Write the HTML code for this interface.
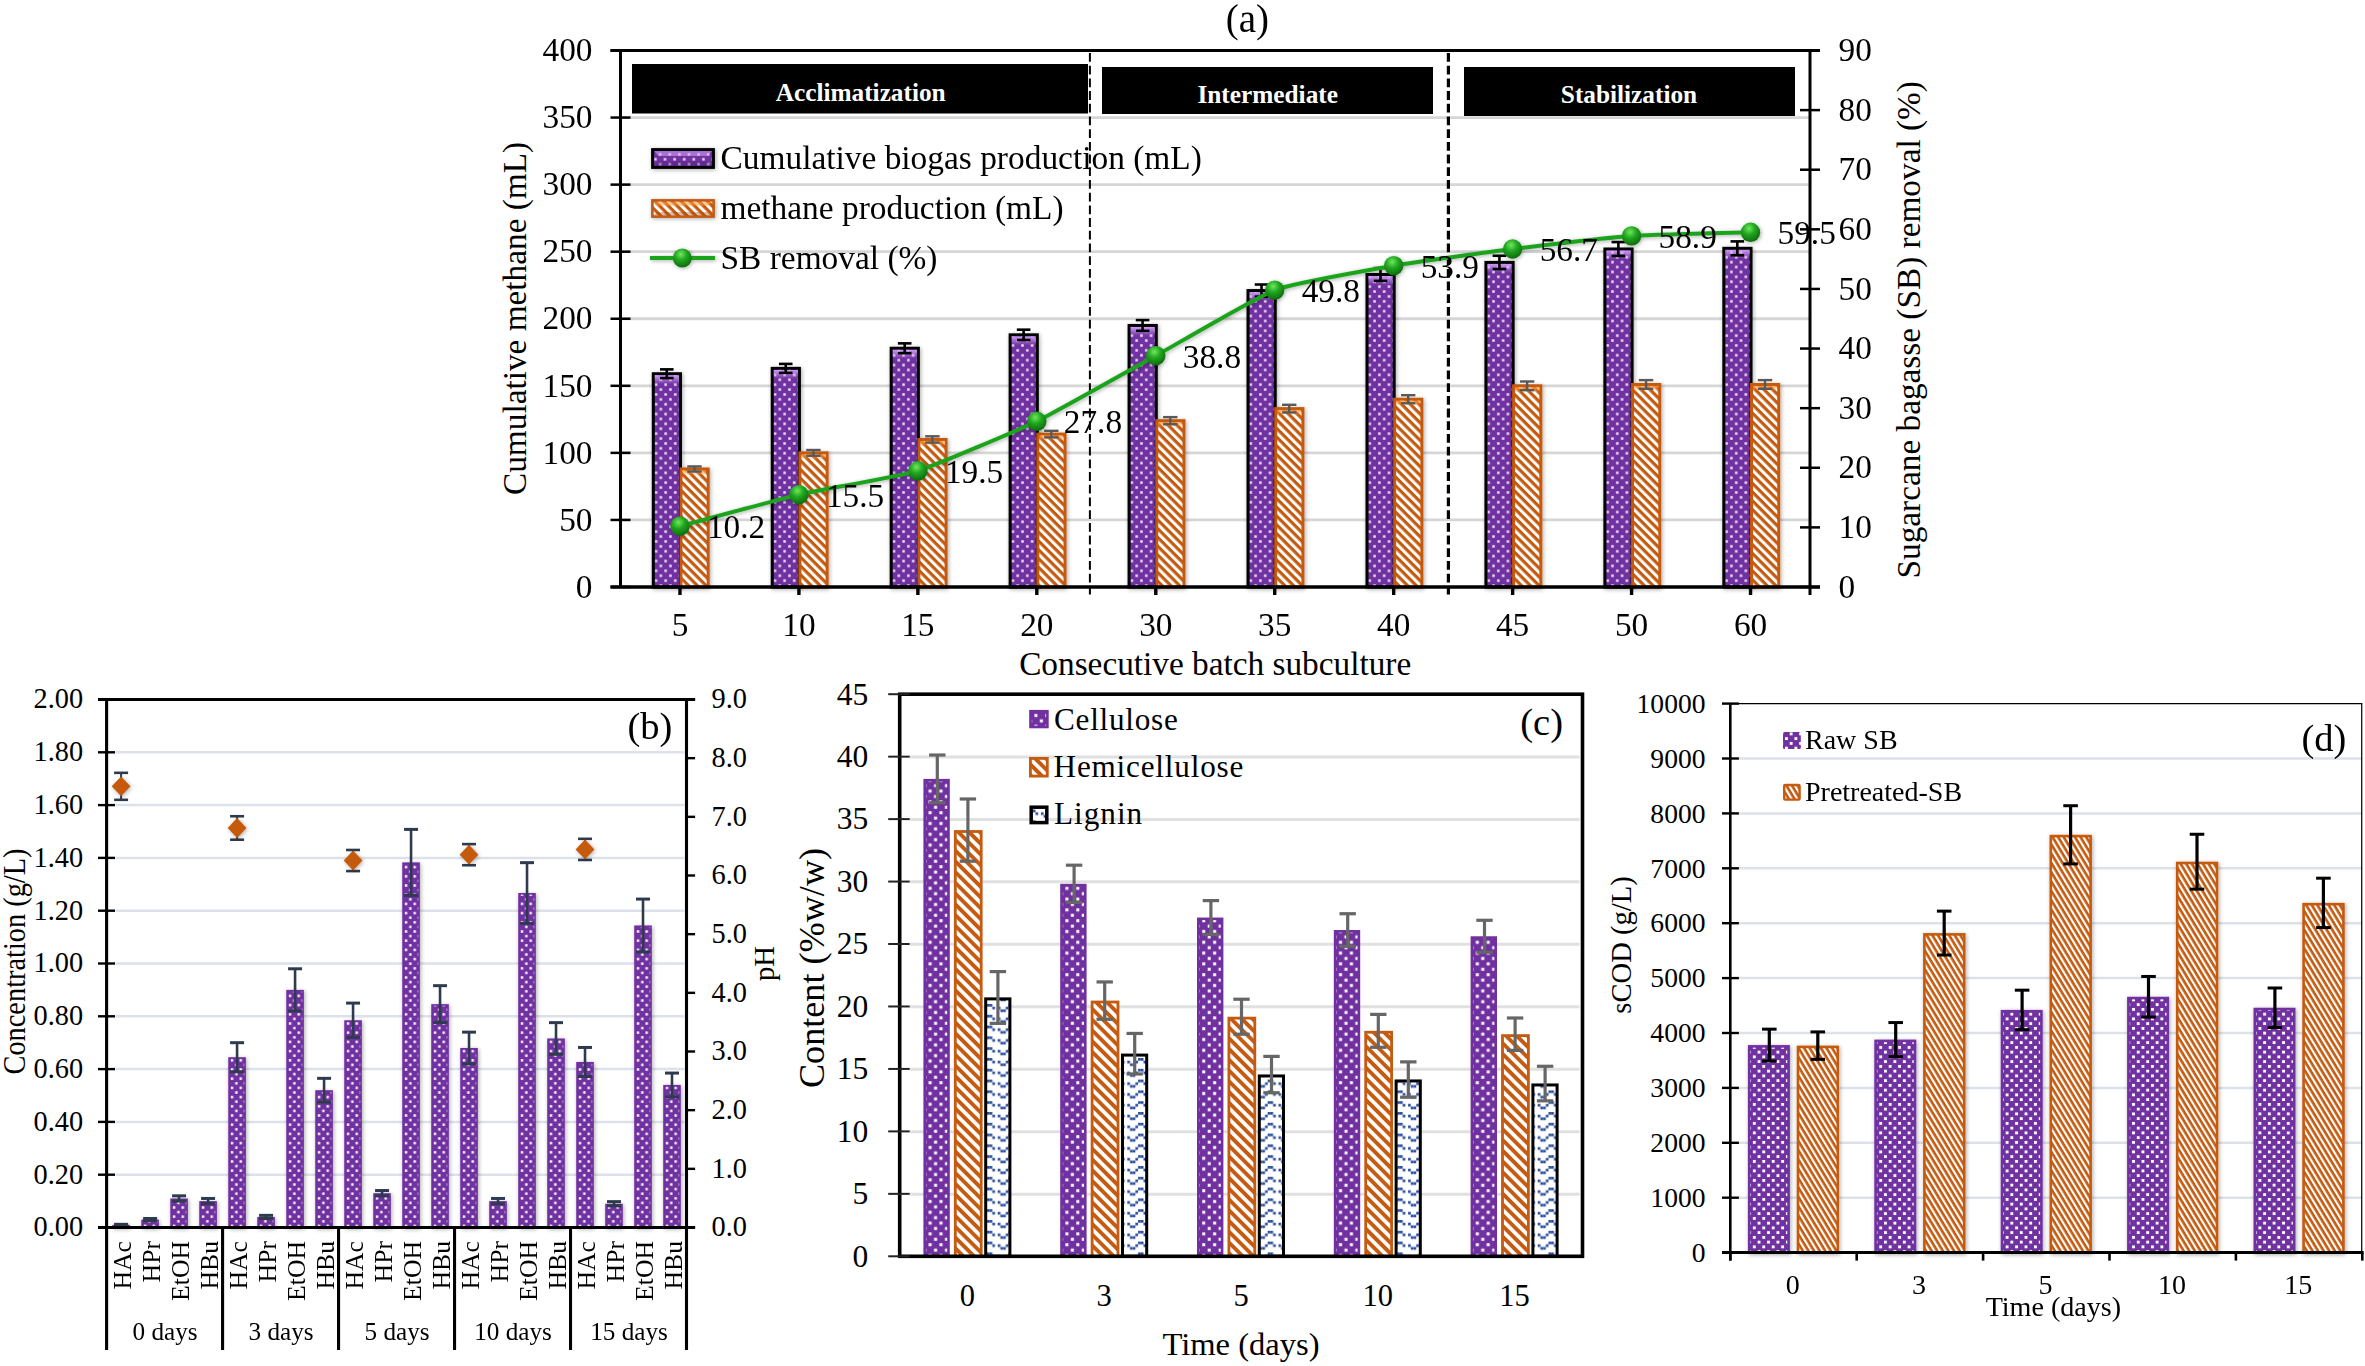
<!DOCTYPE html><html><head><meta charset="utf-8"><title>Figure</title>
<style>html,body{margin:0;padding:0;background:#fff;}svg{display:block;}text{font-family:"Liberation Serif","Times New Roman",serif;}</style></head><body>
<svg width="2365" height="1366" viewBox="0 0 2365 1366">
<defs>
<pattern id="pdotA" x="0.4" y="0" width="9.6" height="9.8" patternUnits="userSpaceOnUse"><rect width="9.6" height="9.8" fill="#7030A0"/><rect x="1.15" y="1.20" width="2.5" height="2.5" fill="#eddff7"/><rect x="5.95" y="6.10" width="2.5" height="2.5" fill="#eddff7"/></pattern>
<pattern id="pdotB" x="0.8" y="0" width="8.7" height="9.2" patternUnits="userSpaceOnUse"><rect width="8.7" height="9.2" fill="#7030A0"/><rect x="0.97" y="1.10" width="2.4" height="2.4" fill="#fff"/><rect x="5.32" y="5.70" width="2.4" height="2.4" fill="#fff"/></pattern>
<pattern id="pdotC" x="2.7" y="0" width="10.9" height="10.8" patternUnits="userSpaceOnUse"><rect width="10.9" height="10.8" fill="#7030A0"/><rect x="1.23" y="1.20" width="3.0" height="3.0" fill="#fff"/><rect x="6.68" y="6.60" width="3.0" height="3.0" fill="#fff"/></pattern>
<pattern id="pdotD" x="2.74" y="0" width="9.45" height="9.5" patternUnits="userSpaceOnUse"><rect width="9.45" height="9.5" fill="#7030A0"/><rect x="0.91" y="0.93" width="2.9" height="2.9" fill="#fff"/><rect x="5.64" y="5.67" width="2.9" height="2.9" fill="#fff"/></pattern>
<pattern id="ohatA" width="6.2" height="6.2" patternUnits="userSpaceOnUse" patternTransform="rotate(45)"><rect width="6.2" height="6.2" fill="#fff"/><rect width="6.2" height="3.2" fill="#C55A11"/></pattern>
<pattern id="ohatC" width="7.6" height="7.6" patternUnits="userSpaceOnUse" patternTransform="rotate(45)"><rect width="7.6" height="7.6" fill="#fff"/><rect width="7.6" height="3.9" fill="#C55A11"/></pattern>
<pattern id="ohatD" width="4.8" height="4.8" patternUnits="userSpaceOnUse" patternTransform="rotate(59)"><rect width="4.8" height="4.8" fill="#fff"/><rect width="4.8" height="2.65" fill="#C55A11"/></pattern>
<pattern id="lig" x="986.9" y="1004" width="21.6" height="10.8" patternUnits="userSpaceOnUse"><rect width="21.6" height="10.8" fill="#fff"/><rect x="0.00" y="0.00" width="2.7" height="2.7" fill="#2a4d9b"/><rect x="2.70" y="0.00" width="2.7" height="2.7" fill="#2a4d9b"/><rect x="5.40" y="2.70" width="2.7" height="2.7" fill="#2a4d9b"/><rect x="10.80" y="2.70" width="2.7" height="2.7" fill="#2a4d9b"/><rect x="18.90" y="2.70" width="2.7" height="2.7" fill="#2a4d9b"/><rect x="13.50" y="5.40" width="2.7" height="2.7" fill="#2a4d9b"/><rect x="16.20" y="5.40" width="2.7" height="2.7" fill="#2a4d9b"/></pattern>
<radialGradient id="gball" cx="0.42" cy="0.3" r="0.7"><stop offset="0" stop-color="#6fe85a"/><stop offset="0.45" stop-color="#22a722"/><stop offset="1" stop-color="#0c6b0c"/></radialGradient>
<linearGradient id="bevP" x1="0" y1="0" x2="0" y2="1"><stop offset="0" stop-color="#d9a6ff" stop-opacity="0.9"/><stop offset="1" stop-color="#d9a6ff" stop-opacity="0"/></linearGradient>
<linearGradient id="bevO" x1="0" y1="0" x2="0" y2="1"><stop offset="0" stop-color="#ff9a3c" stop-opacity="0.9"/><stop offset="1" stop-color="#ff9a3c" stop-opacity="0"/></linearGradient>
<filter id="sh" x="-30%" y="-30%" width="160%" height="160%"><feGaussianBlur in="SourceAlpha" stdDeviation="2.2"/><feOffset dx="0.5" dy="1"/><feComponentTransfer><feFuncA type="linear" slope="0.33"/></feComponentTransfer><feMerge><feMergeNode/><feMergeNode in="SourceGraphic"/></feMerge></filter>
</defs>
<rect width="2365" height="1366" fill="#fff"/>
<g id="chartA">
<line x1="620.5" y1="519.9375" x2="1810" y2="519.9375" stroke="#d6d6d6" stroke-width="2.8"/>
<line x1="620.5" y1="452.875" x2="1810" y2="452.875" stroke="#d6d6d6" stroke-width="2.8"/>
<line x1="620.5" y1="385.8125" x2="1810" y2="385.8125" stroke="#d6d6d6" stroke-width="2.8"/>
<line x1="620.5" y1="318.75" x2="1810" y2="318.75" stroke="#d6d6d6" stroke-width="2.8"/>
<line x1="620.5" y1="251.6875" x2="1810" y2="251.6875" stroke="#d6d6d6" stroke-width="2.8"/>
<line x1="620.5" y1="184.625" x2="1810" y2="184.625" stroke="#d6d6d6" stroke-width="2.8"/>
<line x1="620.5" y1="117.5625" x2="1810" y2="117.5625" stroke="#d6d6d6" stroke-width="2.8"/>
<rect x="632.00" y="64.00" width="456.00" height="49.50" fill="#000" stroke="none" stroke-width="0"/>
<rect x="1102.00" y="67.00" width="331.00" height="47.00" fill="#000" stroke="none" stroke-width="0"/>
<rect x="1464.00" y="67.00" width="331.00" height="49.00" fill="#000" stroke="none" stroke-width="0"/>
<text x="860.7" y="100.8" font-size="25.3" text-anchor="middle" font-weight="bold" fill="#fff">Acclimatization</text>
<text x="1267.7" y="103.2" font-size="25.3" text-anchor="middle" font-weight="bold" fill="#fff">Intermediate</text>
<text x="1629" y="103.2" font-size="25.3" text-anchor="middle" font-weight="bold" fill="#fff">Stabilization</text>
<g filter="url(#sh)">
<g transform="translate(653.27 0)"><rect x="0" y="373.74" width="27.20" height="213.26" fill="url(#pdotA)" stroke="#000" stroke-width="3"/></g>
<g transform="translate(772.22 0)"><rect x="0" y="368.38" width="27.20" height="218.62" fill="url(#pdotA)" stroke="#000" stroke-width="3"/></g>
<g transform="translate(891.17 0)"><rect x="0" y="348.26" width="27.20" height="238.74" fill="url(#pdotA)" stroke="#000" stroke-width="3"/></g>
<g transform="translate(1010.12 0)"><rect x="0" y="334.85" width="27.20" height="252.15" fill="url(#pdotA)" stroke="#000" stroke-width="3"/></g>
<g transform="translate(1129.08 0)"><rect x="0" y="325.46" width="27.20" height="261.54" fill="url(#pdotA)" stroke="#000" stroke-width="3"/></g>
<g transform="translate(1248.02 0)"><rect x="0" y="290.58" width="27.20" height="296.42" fill="url(#pdotA)" stroke="#000" stroke-width="3"/></g>
<g transform="translate(1366.98 0)"><rect x="0" y="274.49" width="27.20" height="312.51" fill="url(#pdotA)" stroke="#000" stroke-width="3"/></g>
<g transform="translate(1485.92 0)"><rect x="0" y="262.42" width="27.20" height="324.58" fill="url(#pdotA)" stroke="#000" stroke-width="3"/></g>
<g transform="translate(1604.88 0)"><rect x="0" y="249.00" width="27.20" height="338.00" fill="url(#pdotA)" stroke="#000" stroke-width="3"/></g>
<g transform="translate(1723.83 0)"><rect x="0" y="248.33" width="27.20" height="338.67" fill="url(#pdotA)" stroke="#000" stroke-width="3"/></g>
</g>
<g filter="url(#sh)">
<rect x="680.98" y="468.97" width="27.20" height="118.03" fill="url(#ohatA)" stroke="#C55A11" stroke-width="3"/>
<rect x="799.92" y="452.88" width="27.20" height="134.12" fill="url(#ohatA)" stroke="#C55A11" stroke-width="3"/>
<rect x="918.88" y="439.46" width="27.20" height="147.54" fill="url(#ohatA)" stroke="#C55A11" stroke-width="3"/>
<rect x="1037.83" y="434.10" width="27.20" height="152.90" fill="url(#ohatA)" stroke="#C55A11" stroke-width="3"/>
<rect x="1156.78" y="420.69" width="27.20" height="166.31" fill="url(#ohatA)" stroke="#C55A11" stroke-width="3"/>
<rect x="1275.72" y="408.61" width="27.20" height="178.39" fill="url(#ohatA)" stroke="#C55A11" stroke-width="3"/>
<rect x="1394.68" y="399.23" width="27.20" height="187.77" fill="url(#ohatA)" stroke="#C55A11" stroke-width="3"/>
<rect x="1513.62" y="385.81" width="27.20" height="201.19" fill="url(#ohatA)" stroke="#C55A11" stroke-width="3"/>
<rect x="1632.58" y="384.47" width="27.20" height="202.53" fill="url(#ohatA)" stroke="#C55A11" stroke-width="3"/>
<rect x="1751.53" y="384.47" width="27.20" height="202.53" fill="url(#ohatA)" stroke="#C55A11" stroke-width="3"/>
</g>
<rect x="654.77" y="375.24" width="24.20" height="9.00" fill="url(#bevP)" stroke="none" stroke-width="0"/>
<rect x="682.48" y="470.47" width="23.50" height="5.00" fill="url(#bevO)" stroke="none" stroke-width="0"/>
<rect x="773.72" y="369.88" width="24.20" height="9.00" fill="url(#bevP)" stroke="none" stroke-width="0"/>
<rect x="801.42" y="454.38" width="23.50" height="5.00" fill="url(#bevO)" stroke="none" stroke-width="0"/>
<rect x="892.67" y="349.76" width="24.20" height="9.00" fill="url(#bevP)" stroke="none" stroke-width="0"/>
<rect x="920.38" y="440.96" width="23.50" height="5.00" fill="url(#bevO)" stroke="none" stroke-width="0"/>
<rect x="1011.62" y="336.35" width="24.20" height="9.00" fill="url(#bevP)" stroke="none" stroke-width="0"/>
<rect x="1039.33" y="435.60" width="23.50" height="5.00" fill="url(#bevO)" stroke="none" stroke-width="0"/>
<rect x="1130.58" y="326.96" width="24.20" height="9.00" fill="url(#bevP)" stroke="none" stroke-width="0"/>
<rect x="1158.28" y="422.19" width="23.50" height="5.00" fill="url(#bevO)" stroke="none" stroke-width="0"/>
<rect x="1249.52" y="292.08" width="24.20" height="9.00" fill="url(#bevP)" stroke="none" stroke-width="0"/>
<rect x="1277.22" y="410.11" width="23.50" height="5.00" fill="url(#bevO)" stroke="none" stroke-width="0"/>
<rect x="1368.48" y="275.99" width="24.20" height="9.00" fill="url(#bevP)" stroke="none" stroke-width="0"/>
<rect x="1396.18" y="400.73" width="23.50" height="5.00" fill="url(#bevO)" stroke="none" stroke-width="0"/>
<rect x="1487.42" y="263.92" width="24.20" height="9.00" fill="url(#bevP)" stroke="none" stroke-width="0"/>
<rect x="1515.12" y="387.31" width="23.50" height="5.00" fill="url(#bevO)" stroke="none" stroke-width="0"/>
<rect x="1606.38" y="250.50" width="24.20" height="9.00" fill="url(#bevP)" stroke="none" stroke-width="0"/>
<rect x="1634.08" y="385.97" width="23.50" height="5.00" fill="url(#bevO)" stroke="none" stroke-width="0"/>
<rect x="1725.33" y="249.83" width="24.20" height="9.00" fill="url(#bevP)" stroke="none" stroke-width="0"/>
<rect x="1753.03" y="385.97" width="23.50" height="5.00" fill="url(#bevO)" stroke="none" stroke-width="0"/>
<line x1="666.775" y1="369.36944562499997" x2="666.775" y2="378.113054375" stroke="#000" stroke-width="2.6"/>
<line x1="659.975" y1="369.36944562499997" x2="673.5749999999999" y2="369.36944562499997" stroke="#000" stroke-width="2.6"/>
<line x1="659.975" y1="378.113054375" x2="673.5749999999999" y2="378.113054375" stroke="#000" stroke-width="2.6"/>
<line x1="694.475" y1="466.43235500000003" x2="694.475" y2="471.507645" stroke="#595959" stroke-width="2.4"/>
<line x1="687.275" y1="466.43235500000003" x2="701.6750000000001" y2="466.43235500000003" stroke="#595959" stroke-width="2.4"/>
<line x1="687.275" y1="471.507645" x2="701.6750000000001" y2="471.507645" stroke="#595959" stroke-width="2.4"/>
<line x1="785.7249999999999" y1="363.894463125" x2="785.7249999999999" y2="372.85803687500004" stroke="#000" stroke-width="2.6"/>
<line x1="778.925" y1="363.894463125" x2="792.5249999999999" y2="363.894463125" stroke="#000" stroke-width="2.6"/>
<line x1="778.925" y1="372.85803687500004" x2="792.5249999999999" y2="372.85803687500004" stroke="#000" stroke-width="2.6"/>
<line x1="813.425" y1="449.9913125" x2="813.425" y2="455.7586875" stroke="#595959" stroke-width="2.4"/>
<line x1="806.2249999999999" y1="449.9913125" x2="820.625" y2="449.9913125" stroke="#595959" stroke-width="2.4"/>
<line x1="806.2249999999999" y1="455.7586875" x2="820.625" y2="455.7586875" stroke="#595959" stroke-width="2.4"/>
<line x1="904.675" y1="343.36327875" x2="904.675" y2="353.15172125" stroke="#000" stroke-width="2.6"/>
<line x1="897.875" y1="343.36327875" x2="911.4749999999999" y2="343.36327875" stroke="#000" stroke-width="2.6"/>
<line x1="897.875" y1="353.15172125" x2="911.4749999999999" y2="353.15172125" stroke="#000" stroke-width="2.6"/>
<line x1="932.375" y1="436.29044374999995" x2="932.375" y2="442.63455625" stroke="#595959" stroke-width="2.4"/>
<line x1="925.175" y1="436.29044374999995" x2="939.575" y2="436.29044374999995" stroke="#595959" stroke-width="2.4"/>
<line x1="925.175" y1="442.63455625" x2="939.575" y2="442.63455625" stroke="#595959" stroke-width="2.4"/>
<line x1="1023.625" y1="329.67582250000004" x2="1023.625" y2="340.0141775" stroke="#000" stroke-width="2.6"/>
<line x1="1016.825" y1="329.67582250000004" x2="1030.425" y2="329.67582250000004" stroke="#000" stroke-width="2.6"/>
<line x1="1016.825" y1="340.0141775" x2="1030.425" y2="340.0141775" stroke="#000" stroke-width="2.6"/>
<line x1="1051.325" y1="430.81009625" x2="1051.325" y2="437.38490375000003" stroke="#595959" stroke-width="2.4"/>
<line x1="1044.125" y1="430.81009625" x2="1058.525" y2="430.81009625" stroke="#595959" stroke-width="2.4"/>
<line x1="1044.125" y1="437.38490375000003" x2="1058.525" y2="437.38490375000003" stroke="#595959" stroke-width="2.4"/>
<line x1="1142.575" y1="320.094603125" x2="1142.575" y2="330.81789687500003" stroke="#000" stroke-width="2.6"/>
<line x1="1135.775" y1="320.094603125" x2="1149.375" y2="320.094603125" stroke="#000" stroke-width="2.6"/>
<line x1="1135.775" y1="330.81789687500003" x2="1149.375" y2="330.81789687500003" stroke="#000" stroke-width="2.6"/>
<line x1="1170.275" y1="417.1092275" x2="1170.275" y2="424.26077250000003" stroke="#595959" stroke-width="2.4"/>
<line x1="1163.075" y1="417.1092275" x2="1177.4750000000001" y2="417.1092275" stroke="#595959" stroke-width="2.4"/>
<line x1="1163.075" y1="424.26077250000003" x2="1177.4750000000001" y2="424.26077250000003" stroke="#595959" stroke-width="2.4"/>
<line x1="1261.5249999999999" y1="284.507216875" x2="1261.5249999999999" y2="296.66028312500003" stroke="#000" stroke-width="2.6"/>
<line x1="1254.725" y1="284.507216875" x2="1268.3249999999998" y2="284.507216875" stroke="#000" stroke-width="2.6"/>
<line x1="1254.725" y1="296.66028312500003" x2="1268.3249999999998" y2="296.66028312500003" stroke="#000" stroke-width="2.6"/>
<line x1="1289.225" y1="404.77844562499996" x2="1289.225" y2="412.449054375" stroke="#595959" stroke-width="2.4"/>
<line x1="1282.0249999999999" y1="404.77844562499996" x2="1296.425" y2="404.77844562499996" stroke="#595959" stroke-width="2.4"/>
<line x1="1282.0249999999999" y1="412.449054375" x2="1296.425" y2="412.449054375" stroke="#595959" stroke-width="2.4"/>
<line x1="1380.4750000000001" y1="268.082269375" x2="1380.4750000000001" y2="280.89523062499995" stroke="#000" stroke-width="2.6"/>
<line x1="1373.6750000000002" y1="268.082269375" x2="1387.275" y2="268.082269375" stroke="#000" stroke-width="2.6"/>
<line x1="1373.6750000000002" y1="280.89523062499995" x2="1387.275" y2="280.89523062499995" stroke="#000" stroke-width="2.6"/>
<line x1="1408.1750000000002" y1="395.1878375" x2="1408.1750000000002" y2="403.26216250000004" stroke="#595959" stroke-width="2.4"/>
<line x1="1400.9750000000001" y1="395.1878375" x2="1415.3750000000002" y2="395.1878375" stroke="#595959" stroke-width="2.4"/>
<line x1="1400.9750000000001" y1="403.26216250000004" x2="1415.3750000000002" y2="403.26216250000004" stroke="#595959" stroke-width="2.4"/>
<line x1="1499.425" y1="255.76355875000002" x2="1499.425" y2="269.07144125" stroke="#000" stroke-width="2.6"/>
<line x1="1492.625" y1="255.76355875000002" x2="1506.225" y2="255.76355875000002" stroke="#000" stroke-width="2.6"/>
<line x1="1492.625" y1="269.07144125" x2="1506.225" y2="269.07144125" stroke="#000" stroke-width="2.6"/>
<line x1="1527.125" y1="381.48696875" x2="1527.125" y2="390.13803125" stroke="#595959" stroke-width="2.4"/>
<line x1="1519.925" y1="381.48696875" x2="1534.325" y2="381.48696875" stroke="#595959" stroke-width="2.4"/>
<line x1="1519.925" y1="390.13803125" x2="1534.325" y2="390.13803125" stroke="#595959" stroke-width="2.4"/>
<line x1="1618.375" y1="242.0761025" x2="1618.375" y2="255.9338975" stroke="#000" stroke-width="2.6"/>
<line x1="1611.575" y1="242.0761025" x2="1625.175" y2="242.0761025" stroke="#000" stroke-width="2.6"/>
<line x1="1611.575" y1="255.9338975" x2="1625.175" y2="255.9338975" stroke="#000" stroke-width="2.6"/>
<line x1="1646.075" y1="380.116881875" x2="1646.075" y2="388.825618125" stroke="#595959" stroke-width="2.4"/>
<line x1="1638.875" y1="380.116881875" x2="1653.275" y2="380.116881875" stroke="#595959" stroke-width="2.4"/>
<line x1="1638.875" y1="388.825618125" x2="1653.275" y2="388.825618125" stroke="#595959" stroke-width="2.4"/>
<line x1="1737.325" y1="241.39172968750003" x2="1737.325" y2="255.2770203125" stroke="#000" stroke-width="2.6"/>
<line x1="1730.525" y1="241.39172968750003" x2="1744.125" y2="241.39172968750003" stroke="#000" stroke-width="2.6"/>
<line x1="1730.525" y1="255.2770203125" x2="1744.125" y2="255.2770203125" stroke="#000" stroke-width="2.6"/>
<line x1="1765.025" y1="380.116881875" x2="1765.025" y2="388.825618125" stroke="#595959" stroke-width="2.4"/>
<line x1="1757.825" y1="380.116881875" x2="1772.2250000000001" y2="380.116881875" stroke="#595959" stroke-width="2.4"/>
<line x1="1757.825" y1="388.825618125" x2="1772.2250000000001" y2="388.825618125" stroke="#595959" stroke-width="2.4"/>
<line x1="1089.9" y1="53" x2="1089.9" y2="594.5" stroke="#000" stroke-width="2" stroke-dasharray="8.8 3.9"/>
<line x1="1448.4" y1="53" x2="1448.4" y2="594.5" stroke="#000" stroke-width="3.2" stroke-dasharray="8.8 3.9"/>
<line x1="610.5" y1="50.5" x2="1820" y2="50.5" stroke="#000" stroke-width="3"/>
<line x1="620.5" y1="50.5" x2="620.5" y2="587" stroke="#000" stroke-width="3"/>
<line x1="1810" y1="50.5" x2="1810" y2="595" stroke="#000" stroke-width="3"/>
<line x1="610.5" y1="587" x2="1820" y2="587" stroke="#000" stroke-width="3.6"/>
<line x1="610.5" y1="587.0" x2="630.5" y2="587.0" stroke="#000" stroke-width="2.5"/>
<text x="592.5" y="597.7" font-size="33.3" text-anchor="end" font-weight="normal" fill="#000">0</text>
<line x1="610.5" y1="519.9375" x2="630.5" y2="519.9375" stroke="#000" stroke-width="2.5"/>
<text x="592.5" y="530.6375" font-size="33.3" text-anchor="end" font-weight="normal" fill="#000">50</text>
<line x1="610.5" y1="452.875" x2="630.5" y2="452.875" stroke="#000" stroke-width="2.5"/>
<text x="592.5" y="463.575" font-size="33.3" text-anchor="end" font-weight="normal" fill="#000">100</text>
<line x1="610.5" y1="385.8125" x2="630.5" y2="385.8125" stroke="#000" stroke-width="2.5"/>
<text x="592.5" y="396.5125" font-size="33.3" text-anchor="end" font-weight="normal" fill="#000">150</text>
<line x1="610.5" y1="318.75" x2="630.5" y2="318.75" stroke="#000" stroke-width="2.5"/>
<text x="592.5" y="329.45" font-size="33.3" text-anchor="end" font-weight="normal" fill="#000">200</text>
<line x1="610.5" y1="251.6875" x2="630.5" y2="251.6875" stroke="#000" stroke-width="2.5"/>
<text x="592.5" y="262.3875" font-size="33.3" text-anchor="end" font-weight="normal" fill="#000">250</text>
<line x1="610.5" y1="184.625" x2="630.5" y2="184.625" stroke="#000" stroke-width="2.5"/>
<text x="592.5" y="195.325" font-size="33.3" text-anchor="end" font-weight="normal" fill="#000">300</text>
<line x1="610.5" y1="117.5625" x2="630.5" y2="117.5625" stroke="#000" stroke-width="2.5"/>
<text x="592.5" y="128.2625" font-size="33.3" text-anchor="end" font-weight="normal" fill="#000">350</text>
<line x1="610.5" y1="50.5" x2="630.5" y2="50.5" stroke="#000" stroke-width="2.5"/>
<text x="592.5" y="61.2" font-size="33.3" text-anchor="end" font-weight="normal" fill="#000">400</text>
<line x1="1800" y1="587.0" x2="1820" y2="587.0" stroke="#000" stroke-width="2.5"/>
<text x="1838.5" y="597.7" font-size="33.3" text-anchor="start" font-weight="normal" fill="#000">0</text>
<line x1="1800" y1="527.3888888888889" x2="1820" y2="527.3888888888889" stroke="#000" stroke-width="2.5"/>
<text x="1838.5" y="538.088888888889" font-size="33.3" text-anchor="start" font-weight="normal" fill="#000">10</text>
<line x1="1800" y1="467.77777777777777" x2="1820" y2="467.77777777777777" stroke="#000" stroke-width="2.5"/>
<text x="1838.5" y="478.47777777777776" font-size="33.3" text-anchor="start" font-weight="normal" fill="#000">20</text>
<line x1="1800" y1="408.1666666666667" x2="1820" y2="408.1666666666667" stroke="#000" stroke-width="2.5"/>
<text x="1838.5" y="418.8666666666667" font-size="33.3" text-anchor="start" font-weight="normal" fill="#000">30</text>
<line x1="1800" y1="348.55555555555554" x2="1820" y2="348.55555555555554" stroke="#000" stroke-width="2.5"/>
<text x="1838.5" y="359.25555555555553" font-size="33.3" text-anchor="start" font-weight="normal" fill="#000">40</text>
<line x1="1800" y1="288.94444444444446" x2="1820" y2="288.94444444444446" stroke="#000" stroke-width="2.5"/>
<text x="1838.5" y="299.64444444444445" font-size="33.3" text-anchor="start" font-weight="normal" fill="#000">50</text>
<line x1="1800" y1="229.33333333333337" x2="1820" y2="229.33333333333337" stroke="#000" stroke-width="2.5"/>
<text x="1838.5" y="240.03333333333336" font-size="33.3" text-anchor="start" font-weight="normal" fill="#000">60</text>
<line x1="1800" y1="169.72222222222223" x2="1820" y2="169.72222222222223" stroke="#000" stroke-width="2.5"/>
<text x="1838.5" y="180.42222222222222" font-size="33.3" text-anchor="start" font-weight="normal" fill="#000">70</text>
<line x1="1800" y1="110.11111111111114" x2="1820" y2="110.11111111111114" stroke="#000" stroke-width="2.5"/>
<text x="1838.5" y="120.81111111111115" font-size="33.3" text-anchor="start" font-weight="normal" fill="#000">80</text>
<line x1="1800" y1="50.5" x2="1820" y2="50.5" stroke="#000" stroke-width="2.5"/>
<text x="1838.5" y="61.2" font-size="33.3" text-anchor="start" font-weight="normal" fill="#000">90</text>
<line x1="679.975" y1="587" x2="679.975" y2="595" stroke="#000" stroke-width="3.4"/>
<text x="679.975" y="636" font-size="33.3" text-anchor="middle" font-weight="normal" fill="#000">5</text>
<line x1="798.925" y1="587" x2="798.925" y2="595" stroke="#000" stroke-width="3.4"/>
<text x="798.925" y="636" font-size="33.3" text-anchor="middle" font-weight="normal" fill="#000">10</text>
<line x1="917.875" y1="587" x2="917.875" y2="595" stroke="#000" stroke-width="3.4"/>
<text x="917.875" y="636" font-size="33.3" text-anchor="middle" font-weight="normal" fill="#000">15</text>
<line x1="1036.825" y1="587" x2="1036.825" y2="595" stroke="#000" stroke-width="3.4"/>
<text x="1036.825" y="636" font-size="33.3" text-anchor="middle" font-weight="normal" fill="#000">20</text>
<line x1="1155.775" y1="587" x2="1155.775" y2="595" stroke="#000" stroke-width="3.4"/>
<text x="1155.775" y="636" font-size="33.3" text-anchor="middle" font-weight="normal" fill="#000">30</text>
<line x1="1274.725" y1="587" x2="1274.725" y2="595" stroke="#000" stroke-width="3.4"/>
<text x="1274.725" y="636" font-size="33.3" text-anchor="middle" font-weight="normal" fill="#000">35</text>
<line x1="1393.6750000000002" y1="587" x2="1393.6750000000002" y2="595" stroke="#000" stroke-width="3.4"/>
<text x="1393.6750000000002" y="636" font-size="33.3" text-anchor="middle" font-weight="normal" fill="#000">40</text>
<line x1="1512.625" y1="587" x2="1512.625" y2="595" stroke="#000" stroke-width="3.4"/>
<text x="1512.625" y="636" font-size="33.3" text-anchor="middle" font-weight="normal" fill="#000">45</text>
<line x1="1631.575" y1="587" x2="1631.575" y2="595" stroke="#000" stroke-width="3.4"/>
<text x="1631.575" y="636" font-size="33.3" text-anchor="middle" font-weight="normal" fill="#000">50</text>
<line x1="1750.525" y1="587" x2="1750.525" y2="595" stroke="#000" stroke-width="3.4"/>
<text x="1750.525" y="636" font-size="33.3" text-anchor="middle" font-weight="normal" fill="#000">60</text>
<g filter="url(#sh)">
<path fill="none" stroke="#1FA31F" stroke-width="4" stroke-linecap="round" d="M680.0,526.2 C688.9,523.8 781.1,498.8 798.9,494.6 C816.8,490.4 900.0,476.3 917.9,470.8 C935.7,465.3 1019.0,429.9 1036.8,421.3 C1054.7,412.7 1137.9,365.5 1155.8,355.7 C1173.6,345.9 1256.9,296.9 1274.7,290.1 C1292.6,283.4 1375.8,268.8 1393.7,265.7 C1411.5,262.6 1494.8,251.2 1512.6,249.0 C1530.5,246.8 1613.7,237.1 1631.6,235.9 C1649.4,234.6 1741.6,232.6 1750.5,232.3"/>
<circle cx="680.0" cy="526.2" r="9.7" fill="url(#gball)"/>
<circle cx="798.9" cy="494.6" r="9.7" fill="url(#gball)"/>
<circle cx="917.9" cy="470.8" r="9.7" fill="url(#gball)"/>
<circle cx="1036.8" cy="421.3" r="9.7" fill="url(#gball)"/>
<circle cx="1155.8" cy="355.7" r="9.7" fill="url(#gball)"/>
<circle cx="1274.7" cy="290.1" r="9.7" fill="url(#gball)"/>
<circle cx="1393.7" cy="265.7" r="9.7" fill="url(#gball)"/>
<circle cx="1512.6" cy="249.0" r="9.7" fill="url(#gball)"/>
<circle cx="1631.6" cy="235.9" r="9.7" fill="url(#gball)"/>
<circle cx="1750.5" cy="232.3" r="9.7" fill="url(#gball)"/>
</g>
<text x="706.975" y="538.0966666666667" font-size="33.3" text-anchor="start" font-weight="normal" fill="#000">10.2</text>
<text x="825.925" y="506.50277777777774" font-size="33.3" text-anchor="start" font-weight="normal" fill="#000">15.5</text>
<text x="944.875" y="482.6583333333333" font-size="33.3" text-anchor="start" font-weight="normal" fill="#000">19.5</text>
<text x="1063.825" y="433.18111111111114" font-size="33.3" text-anchor="start" font-weight="normal" fill="#000">27.8</text>
<text x="1182.775" y="367.6088888888889" font-size="33.3" text-anchor="start" font-weight="normal" fill="#000">38.8</text>
<text x="1301.725" y="302.03666666666663" font-size="33.3" text-anchor="start" font-weight="normal" fill="#000">49.8</text>
<text x="1420.6750000000002" y="277.5961111111111" font-size="33.3" text-anchor="start" font-weight="normal" fill="#000">53.9</text>
<text x="1539.625" y="260.905" font-size="33.3" text-anchor="start" font-weight="normal" fill="#000">56.7</text>
<text x="1658.575" y="247.79055555555558" font-size="33.3" text-anchor="start" font-weight="normal" fill="#000">58.9</text>
<text x="1777.525" y="244.21388888888893" font-size="33.3" text-anchor="start" font-weight="normal" fill="#000">59.5</text>
<g filter="url(#sh)">
<g transform="translate(652.60 0)"><rect x="0" y="149.60" width="60.80" height="17.80" fill="url(#pdotA)" stroke="#000" stroke-width="3"/></g>
<rect x="652.40" y="200.40" width="61.20" height="16.20" fill="url(#ohatA)" stroke="#c05a12" stroke-width="2.6"/>
<line x1="650" y1="258" x2="715" y2="258" stroke="#1FA31F" stroke-width="4"/>
<circle cx="682.3" cy="258" r="9.5" fill="url(#gball)"/>
</g>
<polygon points="654.1,151.1 711.9,151.1 707.5,156 658.5,156" fill="#d9a6ff" opacity="0.55"/>
<polygon points="654.1,165.9 711.9,165.9 707.5,161.5 658.5,161.5" fill="#4b1a73" opacity="0.35"/>
<polygon points="653.7,201.7 712.3,201.7 708.5,205.5 657.5,205.5" fill="#ff9a3c" opacity="0.55"/>
<polygon points="653.7,215.3 712.3,215.3 708.5,212 657.5,212" fill="#9a4308" opacity="0.35"/>
<text x="720.5" y="169" font-size="33.4" text-anchor="start" font-weight="normal" fill="#000">Cumulative biogas production (mL)</text>
<text x="720.5" y="219" font-size="33.4" text-anchor="start" font-weight="normal" fill="#000">methane production (mL)</text>
<text x="720.5" y="269" font-size="33.4" text-anchor="start" font-weight="normal" fill="#000">SB removal (%)</text>
<text x="1247.3" y="32.3" font-size="39" text-anchor="middle" font-weight="normal" fill="#000">(a)</text>
<text transform="translate(526 318.4) rotate(-90)" font-size="33.3" text-anchor="middle" font-weight="normal" fill="#000">Cumulative methane (mL)</text>
<text transform="translate(1919.5 329.8) rotate(-90)" font-size="33.3" text-anchor="middle" font-weight="normal" fill="#000">Sugarcane bagasse (SB) removal (%)</text>
<text x="1215.2" y="675.1" font-size="33.3" text-anchor="middle" font-weight="normal" fill="#000">Consecutive batch subculture</text>
</g>
<g id="chartB">
<line x1="115.6" y1="1174.7" x2="684.5" y2="1174.7" stroke="#dde2ea" stroke-width="2.5"/>
<line x1="115.6" y1="1121.9" x2="684.5" y2="1121.9" stroke="#dde2ea" stroke-width="2.5"/>
<line x1="115.6" y1="1069.1" x2="684.5" y2="1069.1" stroke="#dde2ea" stroke-width="2.5"/>
<line x1="115.6" y1="1016.3" x2="684.5" y2="1016.3" stroke="#dde2ea" stroke-width="2.5"/>
<line x1="115.6" y1="963.5" x2="684.5" y2="963.5" stroke="#dde2ea" stroke-width="2.5"/>
<line x1="115.6" y1="910.6999999999999" x2="684.5" y2="910.6999999999999" stroke="#dde2ea" stroke-width="2.5"/>
<line x1="115.6" y1="857.9" x2="684.5" y2="857.9" stroke="#dde2ea" stroke-width="2.5"/>
<line x1="115.6" y1="805.0999999999999" x2="684.5" y2="805.0999999999999" stroke="#dde2ea" stroke-width="2.5"/>
<line x1="115.6" y1="752.3" x2="684.5" y2="752.3" stroke="#dde2ea" stroke-width="2.5"/>
<g filter="url(#sh)">
<g transform="translate(113.10 0)"><rect x="0" y="1225.66" width="16.00" height="1.84" fill="url(#pdotB)" stroke="#7030A0" stroke-width="1.6"/></g>
<g transform="translate(142.09 0)"><rect x="0" y="1220.38" width="16.00" height="7.12" fill="url(#pdotB)" stroke="#7030A0" stroke-width="1.6"/></g>
<g transform="translate(171.09 0)"><rect x="0" y="1199.26" width="16.00" height="28.24" fill="url(#pdotB)" stroke="#7030A0" stroke-width="1.6"/></g>
<g transform="translate(200.08 0)"><rect x="0" y="1201.90" width="16.00" height="25.60" fill="url(#pdotB)" stroke="#7030A0" stroke-width="1.6"/></g>
<g transform="translate(229.08 0)"><rect x="0" y="1058.02" width="16.00" height="169.48" fill="url(#pdotB)" stroke="#7030A0" stroke-width="1.6"/></g>
<g transform="translate(258.07 0)"><rect x="0" y="1217.74" width="16.00" height="9.76" fill="url(#pdotB)" stroke="#7030A0" stroke-width="1.6"/></g>
<g transform="translate(287.07 0)"><rect x="0" y="990.70" width="16.00" height="236.80" fill="url(#pdotB)" stroke="#7030A0" stroke-width="1.6"/></g>
<g transform="translate(316.06 0)"><rect x="0" y="1091.02" width="16.00" height="136.48" fill="url(#pdotB)" stroke="#7030A0" stroke-width="1.6"/></g>
<g transform="translate(345.06 0)"><rect x="0" y="1021.06" width="16.00" height="206.44" fill="url(#pdotB)" stroke="#7030A0" stroke-width="1.6"/></g>
<g transform="translate(374.05 0)"><rect x="0" y="1193.98" width="16.00" height="33.52" fill="url(#pdotB)" stroke="#7030A0" stroke-width="1.6"/></g>
<g transform="translate(403.05 0)"><rect x="0" y="863.19" width="16.00" height="364.31" fill="url(#pdotB)" stroke="#7030A0" stroke-width="1.6"/></g>
<g transform="translate(432.04 0)"><rect x="0" y="1004.96" width="16.00" height="222.54" fill="url(#pdotB)" stroke="#7030A0" stroke-width="1.6"/></g>
<g transform="translate(461.04 0)"><rect x="0" y="1048.78" width="16.00" height="178.72" fill="url(#pdotB)" stroke="#7030A0" stroke-width="1.6"/></g>
<g transform="translate(490.03 0)"><rect x="0" y="1201.90" width="16.00" height="25.60" fill="url(#pdotB)" stroke="#7030A0" stroke-width="1.6"/></g>
<g transform="translate(519.03 0)"><rect x="0" y="893.81" width="16.00" height="333.69" fill="url(#pdotB)" stroke="#7030A0" stroke-width="1.6"/></g>
<g transform="translate(548.02 0)"><rect x="0" y="1039.28" width="16.00" height="188.22" fill="url(#pdotB)" stroke="#7030A0" stroke-width="1.6"/></g>
<g transform="translate(577.02 0)"><rect x="0" y="1062.77" width="16.00" height="164.73" fill="url(#pdotB)" stroke="#7030A0" stroke-width="1.6"/></g>
<g transform="translate(606.01 0)"><rect x="0" y="1204.54" width="16.00" height="22.96" fill="url(#pdotB)" stroke="#7030A0" stroke-width="1.6"/></g>
<g transform="translate(635.01 0)"><rect x="0" y="926.28" width="16.00" height="301.22" fill="url(#pdotB)" stroke="#7030A0" stroke-width="1.6"/></g>
<g transform="translate(664.00 0)"><rect x="0" y="1085.74" width="16.00" height="141.76" fill="url(#pdotB)" stroke="#7030A0" stroke-width="1.6"/></g>
</g>
<line x1="121.0975" y1="1224.332" x2="121.0975" y2="1225.388" stroke="#2e3b4e" stroke-width="2.6"/>
<line x1="114.0975" y1="1224.332" x2="128.0975" y2="1224.332" stroke="#2e3b4e" stroke-width="3"/>
<line x1="114.0975" y1="1225.388" x2="128.0975" y2="1225.388" stroke="#2e3b4e" stroke-width="3"/>
<line x1="150.09249999999997" y1="1218.524" x2="150.09249999999997" y2="1220.636" stroke="#2e3b4e" stroke-width="2.6"/>
<line x1="143.09249999999997" y1="1218.524" x2="157.09249999999997" y2="1218.524" stroke="#2e3b4e" stroke-width="3"/>
<line x1="143.09249999999997" y1="1220.636" x2="157.09249999999997" y2="1220.636" stroke="#2e3b4e" stroke-width="3"/>
<line x1="179.08749999999998" y1="1195.82" x2="179.08749999999998" y2="1201.1" stroke="#2e3b4e" stroke-width="2.6"/>
<line x1="172.08749999999998" y1="1195.82" x2="186.08749999999998" y2="1195.82" stroke="#2e3b4e" stroke-width="3"/>
<line x1="172.08749999999998" y1="1201.1" x2="186.08749999999998" y2="1201.1" stroke="#2e3b4e" stroke-width="3"/>
<line x1="208.08249999999998" y1="1198.46" x2="208.08249999999998" y2="1203.74" stroke="#2e3b4e" stroke-width="2.6"/>
<line x1="201.08249999999998" y1="1198.46" x2="215.08249999999998" y2="1198.46" stroke="#2e3b4e" stroke-width="3"/>
<line x1="201.08249999999998" y1="1203.74" x2="215.08249999999998" y2="1203.74" stroke="#2e3b4e" stroke-width="3"/>
<line x1="237.0775" y1="1042.7" x2="237.0775" y2="1071.74" stroke="#2e3b4e" stroke-width="2.6"/>
<line x1="230.0775" y1="1042.7" x2="244.0775" y2="1042.7" stroke="#2e3b4e" stroke-width="3"/>
<line x1="230.0775" y1="1071.74" x2="244.0775" y2="1071.74" stroke="#2e3b4e" stroke-width="3"/>
<line x1="266.0725" y1="1215.356" x2="266.0725" y2="1218.524" stroke="#2e3b4e" stroke-width="2.6"/>
<line x1="259.0725" y1="1215.356" x2="273.0725" y2="1215.356" stroke="#2e3b4e" stroke-width="3"/>
<line x1="259.0725" y1="1218.524" x2="273.0725" y2="1218.524" stroke="#2e3b4e" stroke-width="3"/>
<line x1="295.0675" y1="968.78" x2="295.0675" y2="1011.02" stroke="#2e3b4e" stroke-width="2.6"/>
<line x1="288.0675" y1="968.78" x2="302.0675" y2="968.78" stroke="#2e3b4e" stroke-width="3"/>
<line x1="288.0675" y1="1011.02" x2="302.0675" y2="1011.02" stroke="#2e3b4e" stroke-width="3"/>
<line x1="324.0625" y1="1078.34" x2="324.0625" y2="1102.1" stroke="#2e3b4e" stroke-width="2.6"/>
<line x1="317.0625" y1="1078.34" x2="331.0625" y2="1078.34" stroke="#2e3b4e" stroke-width="3"/>
<line x1="317.0625" y1="1102.1" x2="331.0625" y2="1102.1" stroke="#2e3b4e" stroke-width="3"/>
<line x1="353.0575" y1="1003.0999999999999" x2="353.0575" y2="1037.42" stroke="#2e3b4e" stroke-width="2.6"/>
<line x1="346.0575" y1="1003.0999999999999" x2="360.0575" y2="1003.0999999999999" stroke="#2e3b4e" stroke-width="3"/>
<line x1="346.0575" y1="1037.42" x2="360.0575" y2="1037.42" stroke="#2e3b4e" stroke-width="3"/>
<line x1="382.0525" y1="1190.54" x2="382.0525" y2="1195.82" stroke="#2e3b4e" stroke-width="2.6"/>
<line x1="375.0525" y1="1190.54" x2="389.0525" y2="1190.54" stroke="#2e3b4e" stroke-width="3"/>
<line x1="375.0525" y1="1195.82" x2="389.0525" y2="1195.82" stroke="#2e3b4e" stroke-width="3"/>
<line x1="411.0475" y1="829.3879999999999" x2="411.0475" y2="895.3879999999999" stroke="#2e3b4e" stroke-width="2.6"/>
<line x1="404.0475" y1="829.3879999999999" x2="418.0475" y2="829.3879999999999" stroke="#2e3b4e" stroke-width="3"/>
<line x1="404.0475" y1="895.3879999999999" x2="418.0475" y2="895.3879999999999" stroke="#2e3b4e" stroke-width="3"/>
<line x1="440.0425" y1="985.676" x2="440.0425" y2="1022.636" stroke="#2e3b4e" stroke-width="2.6"/>
<line x1="433.0425" y1="985.676" x2="447.0425" y2="985.676" stroke="#2e3b4e" stroke-width="3"/>
<line x1="433.0425" y1="1022.636" x2="447.0425" y2="1022.636" stroke="#2e3b4e" stroke-width="3"/>
<line x1="469.0374999999999" y1="1032.14" x2="469.0374999999999" y2="1063.82" stroke="#2e3b4e" stroke-width="2.6"/>
<line x1="462.0374999999999" y1="1032.14" x2="476.0374999999999" y2="1032.14" stroke="#2e3b4e" stroke-width="3"/>
<line x1="462.0374999999999" y1="1063.82" x2="476.0374999999999" y2="1063.82" stroke="#2e3b4e" stroke-width="3"/>
<line x1="498.0324999999999" y1="1198.46" x2="498.0324999999999" y2="1203.74" stroke="#2e3b4e" stroke-width="2.6"/>
<line x1="491.0324999999999" y1="1198.46" x2="505.0324999999999" y2="1198.46" stroke="#2e3b4e" stroke-width="3"/>
<line x1="491.0324999999999" y1="1203.74" x2="505.0324999999999" y2="1203.74" stroke="#2e3b4e" stroke-width="3"/>
<line x1="527.0274999999999" y1="862.652" x2="527.0274999999999" y2="923.3720000000001" stroke="#2e3b4e" stroke-width="2.6"/>
<line x1="520.0274999999999" y1="862.652" x2="534.0274999999999" y2="862.652" stroke="#2e3b4e" stroke-width="3"/>
<line x1="520.0274999999999" y1="923.3720000000001" x2="534.0274999999999" y2="923.3720000000001" stroke="#2e3b4e" stroke-width="3"/>
<line x1="556.0224999999999" y1="1022.636" x2="556.0224999999999" y2="1054.316" stroke="#2e3b4e" stroke-width="2.6"/>
<line x1="549.0224999999999" y1="1022.636" x2="563.0224999999999" y2="1022.636" stroke="#2e3b4e" stroke-width="3"/>
<line x1="549.0224999999999" y1="1054.316" x2="563.0224999999999" y2="1054.316" stroke="#2e3b4e" stroke-width="3"/>
<line x1="585.0174999999999" y1="1047.452" x2="585.0174999999999" y2="1076.492" stroke="#2e3b4e" stroke-width="2.6"/>
<line x1="578.0174999999999" y1="1047.452" x2="592.0174999999999" y2="1047.452" stroke="#2e3b4e" stroke-width="3"/>
<line x1="578.0174999999999" y1="1076.492" x2="592.0174999999999" y2="1076.492" stroke="#2e3b4e" stroke-width="3"/>
<line x1="614.0124999999999" y1="1201.628" x2="614.0124999999999" y2="1205.852" stroke="#2e3b4e" stroke-width="2.6"/>
<line x1="607.0124999999999" y1="1201.628" x2="621.0124999999999" y2="1201.628" stroke="#2e3b4e" stroke-width="3"/>
<line x1="607.0124999999999" y1="1205.852" x2="621.0124999999999" y2="1205.852" stroke="#2e3b4e" stroke-width="3"/>
<line x1="643.0074999999999" y1="899.0840000000001" x2="643.0074999999999" y2="951.884" stroke="#2e3b4e" stroke-width="2.6"/>
<line x1="636.0074999999999" y1="899.0840000000001" x2="650.0074999999999" y2="899.0840000000001" stroke="#2e3b4e" stroke-width="3"/>
<line x1="636.0074999999999" y1="951.884" x2="650.0074999999999" y2="951.884" stroke="#2e3b4e" stroke-width="3"/>
<line x1="672.0024999999999" y1="1073.06" x2="672.0024999999999" y2="1096.82" stroke="#2e3b4e" stroke-width="2.6"/>
<line x1="665.0024999999999" y1="1073.06" x2="679.0024999999999" y2="1073.06" stroke="#2e3b4e" stroke-width="3"/>
<line x1="665.0024999999999" y1="1096.82" x2="679.0024999999999" y2="1096.82" stroke="#2e3b4e" stroke-width="3"/>
<line x1="121.0975" y1="772.8333333333333" x2="121.0975" y2="799.82" stroke="#2e3b4e" stroke-width="2"/>
<line x1="114.0975" y1="772.8333333333333" x2="128.0975" y2="772.8333333333333" stroke="#2e3b4e" stroke-width="2.6"/>
<line x1="114.0975" y1="799.82" x2="128.0975" y2="799.82" stroke="#2e3b4e" stroke-width="2.6"/>
<polygon points="111.7,786.3 121.1,776.4 130.5,786.3 121.1,796.2" fill="#C55A11" filter="url(#sh)"/>
<line x1="237.0775" y1="816.2466666666667" x2="237.0775" y2="839.7133333333334" stroke="#2e3b4e" stroke-width="2"/>
<line x1="230.0775" y1="816.2466666666667" x2="244.0775" y2="816.2466666666667" stroke="#2e3b4e" stroke-width="2.6"/>
<line x1="230.0775" y1="839.7133333333334" x2="244.0775" y2="839.7133333333334" stroke="#2e3b4e" stroke-width="2.6"/>
<polygon points="227.7,828.0 237.1,818.1 246.5,828.0 237.1,837.9" fill="#C55A11" filter="url(#sh)"/>
<line x1="353.0575" y1="849.98" x2="353.0575" y2="871.0999999999999" stroke="#2e3b4e" stroke-width="2"/>
<line x1="346.0575" y1="849.98" x2="360.0575" y2="849.98" stroke="#2e3b4e" stroke-width="2.6"/>
<line x1="346.0575" y1="871.0999999999999" x2="360.0575" y2="871.0999999999999" stroke="#2e3b4e" stroke-width="2.6"/>
<polygon points="343.7,860.5 353.1,850.6 362.5,860.5 353.1,870.4" fill="#C55A11" filter="url(#sh)"/>
<line x1="469.0374999999999" y1="844.1133333333332" x2="469.0374999999999" y2="865.2333333333333" stroke="#2e3b4e" stroke-width="2"/>
<line x1="462.0374999999999" y1="844.1133333333332" x2="476.0374999999999" y2="844.1133333333332" stroke="#2e3b4e" stroke-width="2.6"/>
<line x1="462.0374999999999" y1="865.2333333333333" x2="476.0374999999999" y2="865.2333333333333" stroke="#2e3b4e" stroke-width="2.6"/>
<polygon points="459.6,854.7 469.0,844.8 478.4,854.7 469.0,864.6" fill="#C55A11" filter="url(#sh)"/>
<line x1="585.0174999999999" y1="838.8333333333333" x2="585.0174999999999" y2="859.9533333333334" stroke="#2e3b4e" stroke-width="2"/>
<line x1="578.0174999999999" y1="838.8333333333333" x2="592.0174999999999" y2="838.8333333333333" stroke="#2e3b4e" stroke-width="2.6"/>
<line x1="578.0174999999999" y1="859.9533333333334" x2="592.0174999999999" y2="859.9533333333334" stroke="#2e3b4e" stroke-width="2.6"/>
<polygon points="575.6,849.4 585.0,839.5 594.4,849.4 585.0,859.3" fill="#C55A11" filter="url(#sh)"/>
<line x1="98.0" y1="699.5" x2="695.1" y2="699.5" stroke="#000" stroke-width="3.1"/>
<line x1="106.6" y1="699.5" x2="106.6" y2="1350" stroke="#000" stroke-width="3.1"/>
<line x1="686.5" y1="699.5" x2="686.5" y2="1350" stroke="#000" stroke-width="3.1"/>
<line x1="98.0" y1="1227.5" x2="695.1" y2="1227.5" stroke="#000" stroke-width="3"/>
<line x1="98.0" y1="1227.5" x2="115.0" y2="1227.5" stroke="#000" stroke-width="2.4"/>
<text transform="translate(83.1 1236.3) scale(0.955 1)" font-size="29.7" text-anchor="end" font-weight="normal" fill="#000">0.00</text>
<line x1="98.0" y1="1174.7" x2="115.0" y2="1174.7" stroke="#000" stroke-width="2.4"/>
<text transform="translate(83.1 1183.5) scale(0.955 1)" font-size="29.7" text-anchor="end" font-weight="normal" fill="#000">0.20</text>
<line x1="98.0" y1="1121.9" x2="115.0" y2="1121.9" stroke="#000" stroke-width="2.4"/>
<text transform="translate(83.1 1130.7) scale(0.955 1)" font-size="29.7" text-anchor="end" font-weight="normal" fill="#000">0.40</text>
<line x1="98.0" y1="1069.1" x2="115.0" y2="1069.1" stroke="#000" stroke-width="2.4"/>
<text transform="translate(83.1 1077.8999999999999) scale(0.955 1)" font-size="29.7" text-anchor="end" font-weight="normal" fill="#000">0.60</text>
<line x1="98.0" y1="1016.3" x2="115.0" y2="1016.3" stroke="#000" stroke-width="2.4"/>
<text transform="translate(83.1 1025.1) scale(0.955 1)" font-size="29.7" text-anchor="end" font-weight="normal" fill="#000">0.80</text>
<line x1="98.0" y1="963.5" x2="115.0" y2="963.5" stroke="#000" stroke-width="2.4"/>
<text transform="translate(83.1 972.3) scale(0.955 1)" font-size="29.7" text-anchor="end" font-weight="normal" fill="#000">1.00</text>
<line x1="98.0" y1="910.6999999999999" x2="115.0" y2="910.6999999999999" stroke="#000" stroke-width="2.4"/>
<text transform="translate(83.1 919.4999999999999) scale(0.955 1)" font-size="29.7" text-anchor="end" font-weight="normal" fill="#000">1.20</text>
<line x1="98.0" y1="857.9" x2="115.0" y2="857.9" stroke="#000" stroke-width="2.4"/>
<text transform="translate(83.1 866.6999999999999) scale(0.955 1)" font-size="29.7" text-anchor="end" font-weight="normal" fill="#000">1.40</text>
<line x1="98.0" y1="805.0999999999999" x2="115.0" y2="805.0999999999999" stroke="#000" stroke-width="2.4"/>
<text transform="translate(83.1 813.8999999999999) scale(0.955 1)" font-size="29.7" text-anchor="end" font-weight="normal" fill="#000">1.60</text>
<line x1="98.0" y1="752.3" x2="115.0" y2="752.3" stroke="#000" stroke-width="2.4"/>
<text transform="translate(83.1 761.0999999999999) scale(0.955 1)" font-size="29.7" text-anchor="end" font-weight="normal" fill="#000">1.80</text>
<line x1="98.0" y1="699.5" x2="115.0" y2="699.5" stroke="#000" stroke-width="2.4"/>
<text transform="translate(83.1 708.3) scale(0.955 1)" font-size="29.7" text-anchor="end" font-weight="normal" fill="#000">2.00</text>
<line x1="686.5" y1="1227.5" x2="695.1" y2="1227.5" stroke="#000" stroke-width="2.4"/>
<text transform="translate(711.5 1236.3) scale(0.955 1)" font-size="29.7" text-anchor="start" font-weight="normal" fill="#000">0.0</text>
<line x1="686.5" y1="1168.8333333333333" x2="695.1" y2="1168.8333333333333" stroke="#000" stroke-width="2.4"/>
<text transform="translate(711.5 1177.6333333333332) scale(0.955 1)" font-size="29.7" text-anchor="start" font-weight="normal" fill="#000">1.0</text>
<line x1="686.5" y1="1110.1666666666667" x2="695.1" y2="1110.1666666666667" stroke="#000" stroke-width="2.4"/>
<text transform="translate(711.5 1118.9666666666667) scale(0.955 1)" font-size="29.7" text-anchor="start" font-weight="normal" fill="#000">2.0</text>
<line x1="686.5" y1="1051.5" x2="695.1" y2="1051.5" stroke="#000" stroke-width="2.4"/>
<text transform="translate(711.5 1060.3) scale(0.955 1)" font-size="29.7" text-anchor="start" font-weight="normal" fill="#000">3.0</text>
<line x1="686.5" y1="992.8333333333334" x2="695.1" y2="992.8333333333334" stroke="#000" stroke-width="2.4"/>
<text transform="translate(711.5 1001.6333333333333) scale(0.955 1)" font-size="29.7" text-anchor="start" font-weight="normal" fill="#000">4.0</text>
<line x1="686.5" y1="934.1666666666666" x2="695.1" y2="934.1666666666666" stroke="#000" stroke-width="2.4"/>
<text transform="translate(711.5 942.9666666666666) scale(0.955 1)" font-size="29.7" text-anchor="start" font-weight="normal" fill="#000">5.0</text>
<line x1="686.5" y1="875.5" x2="695.1" y2="875.5" stroke="#000" stroke-width="2.4"/>
<text transform="translate(711.5 884.3) scale(0.955 1)" font-size="29.7" text-anchor="start" font-weight="normal" fill="#000">6.0</text>
<line x1="686.5" y1="816.8333333333333" x2="695.1" y2="816.8333333333333" stroke="#000" stroke-width="2.4"/>
<text transform="translate(711.5 825.6333333333332) scale(0.955 1)" font-size="29.7" text-anchor="start" font-weight="normal" fill="#000">7.0</text>
<line x1="686.5" y1="758.1666666666667" x2="695.1" y2="758.1666666666667" stroke="#000" stroke-width="2.4"/>
<text transform="translate(711.5 766.9666666666667) scale(0.955 1)" font-size="29.7" text-anchor="start" font-weight="normal" fill="#000">8.0</text>
<line x1="686.5" y1="699.5" x2="695.1" y2="699.5" stroke="#000" stroke-width="2.4"/>
<text transform="translate(711.5 708.3) scale(0.955 1)" font-size="29.7" text-anchor="start" font-weight="normal" fill="#000">9.0</text>
<line x1="222.57999999999998" y1="1227.5" x2="222.57999999999998" y2="1350" stroke="#000" stroke-width="3.1"/>
<line x1="338.55999999999995" y1="1227.5" x2="338.55999999999995" y2="1350" stroke="#000" stroke-width="3.1"/>
<line x1="454.53999999999996" y1="1227.5" x2="454.53999999999996" y2="1350" stroke="#000" stroke-width="3.1"/>
<line x1="570.52" y1="1227.5" x2="570.52" y2="1350" stroke="#000" stroke-width="3.1"/>
<text x="165.08999999999997" y="1340" font-size="25.2" text-anchor="middle" font-weight="normal" fill="#000">0 days</text>
<text transform="translate(130.6975 1241) rotate(-90)" font-size="25.7" text-anchor="end" font-weight="normal" fill="#000">HAc</text>
<text transform="translate(159.69249999999997 1241) rotate(-90)" font-size="25.7" text-anchor="end" font-weight="normal" fill="#000">HPr</text>
<text transform="translate(188.68749999999997 1241) rotate(-90)" font-size="25.7" text-anchor="end" font-weight="normal" fill="#000">EtOH</text>
<text transform="translate(217.68249999999998 1241) rotate(-90)" font-size="25.7" text-anchor="end" font-weight="normal" fill="#000">HBu</text>
<text x="281.06999999999994" y="1340" font-size="25.2" text-anchor="middle" font-weight="normal" fill="#000">3 days</text>
<text transform="translate(246.67749999999998 1241) rotate(-90)" font-size="25.7" text-anchor="end" font-weight="normal" fill="#000">HAc</text>
<text transform="translate(275.6725 1241) rotate(-90)" font-size="25.7" text-anchor="end" font-weight="normal" fill="#000">HPr</text>
<text transform="translate(304.6675 1241) rotate(-90)" font-size="25.7" text-anchor="end" font-weight="normal" fill="#000">EtOH</text>
<text transform="translate(333.6625 1241) rotate(-90)" font-size="25.7" text-anchor="end" font-weight="normal" fill="#000">HBu</text>
<text x="397.04999999999995" y="1340" font-size="25.2" text-anchor="middle" font-weight="normal" fill="#000">5 days</text>
<text transform="translate(362.6575 1241) rotate(-90)" font-size="25.7" text-anchor="end" font-weight="normal" fill="#000">HAc</text>
<text transform="translate(391.65250000000003 1241) rotate(-90)" font-size="25.7" text-anchor="end" font-weight="normal" fill="#000">HPr</text>
<text transform="translate(420.64750000000004 1241) rotate(-90)" font-size="25.7" text-anchor="end" font-weight="normal" fill="#000">EtOH</text>
<text transform="translate(449.64250000000004 1241) rotate(-90)" font-size="25.7" text-anchor="end" font-weight="normal" fill="#000">HBu</text>
<text x="513.03" y="1340" font-size="25.2" text-anchor="middle" font-weight="normal" fill="#000">10 days</text>
<text transform="translate(478.63749999999993 1241) rotate(-90)" font-size="25.7" text-anchor="end" font-weight="normal" fill="#000">HAc</text>
<text transform="translate(507.63249999999994 1241) rotate(-90)" font-size="25.7" text-anchor="end" font-weight="normal" fill="#000">HPr</text>
<text transform="translate(536.6274999999999 1241) rotate(-90)" font-size="25.7" text-anchor="end" font-weight="normal" fill="#000">EtOH</text>
<text transform="translate(565.6225 1241) rotate(-90)" font-size="25.7" text-anchor="end" font-weight="normal" fill="#000">HBu</text>
<text x="629.01" y="1340" font-size="25.2" text-anchor="middle" font-weight="normal" fill="#000">15 days</text>
<text transform="translate(594.6175 1241) rotate(-90)" font-size="25.7" text-anchor="end" font-weight="normal" fill="#000">HAc</text>
<text transform="translate(623.6125 1241) rotate(-90)" font-size="25.7" text-anchor="end" font-weight="normal" fill="#000">HPr</text>
<text transform="translate(652.6075 1241) rotate(-90)" font-size="25.7" text-anchor="end" font-weight="normal" fill="#000">EtOH</text>
<text transform="translate(681.6025 1241) rotate(-90)" font-size="25.7" text-anchor="end" font-weight="normal" fill="#000">HBu</text>
<text x="650" y="739.4" font-size="38.5" text-anchor="middle" font-weight="normal" fill="#000">(b)</text>
<text transform="translate(25 961.5) rotate(-90) scale(0.915 1)" font-size="31" text-anchor="middle" font-weight="normal" fill="#000">Concentration (g/L)</text>
<text transform="translate(774.3 963.5) rotate(-90)" font-size="28.6" text-anchor="middle" font-weight="normal" fill="#000">pH</text>
</g>
<g id="chartC">
<line x1="909.7" y1="1194.1444444444444" x2="1579.5" y2="1194.1444444444444" stroke="#e0e0e0" stroke-width="3"/>
<line x1="909.7" y1="1131.6888888888889" x2="1579.5" y2="1131.6888888888889" stroke="#e0e0e0" stroke-width="3"/>
<line x1="909.7" y1="1069.2333333333333" x2="1579.5" y2="1069.2333333333333" stroke="#e0e0e0" stroke-width="3"/>
<line x1="909.7" y1="1006.7777777777777" x2="1579.5" y2="1006.7777777777777" stroke="#e0e0e0" stroke-width="3"/>
<line x1="909.7" y1="944.3222222222222" x2="1579.5" y2="944.3222222222222" stroke="#e0e0e0" stroke-width="3"/>
<line x1="909.7" y1="881.8666666666667" x2="1579.5" y2="881.8666666666667" stroke="#e0e0e0" stroke-width="3"/>
<line x1="909.7" y1="819.411111111111" x2="1579.5" y2="819.411111111111" stroke="#e0e0e0" stroke-width="3"/>
<line x1="909.7" y1="756.9555555555555" x2="1579.5" y2="756.9555555555555" stroke="#e0e0e0" stroke-width="3"/>
<g transform="translate(924.70 0)"><rect x="0" y="780.19" width="23.80" height="476.11" fill="url(#pdotC)" stroke="#7030A0" stroke-width="2.6"/></g>
<rect x="955.30" y="831.50" width="25.90" height="424.80" fill="url(#ohatC)" stroke="#C55A11" stroke-width="2.8"/>
<rect x="985.70" y="998.88" width="24.20" height="257.42" fill="url(#lig)" stroke="#000" stroke-width="3"/>
<line x1="937.3" y1="755.0192200000001" x2="937.3" y2="802.7602466666667" stroke="#666666" stroke-width="3.2"/>
<line x1="929.0999999999999" y1="755.0192200000001" x2="945.5" y2="755.0192200000001" stroke="#666666" stroke-width="3.2"/>
<line x1="929.0999999999999" y1="802.7602466666667" x2="945.5" y2="802.7602466666667" stroke="#666666" stroke-width="3.2"/>
<line x1="967.9" y1="798.9909289777779" x2="967.9" y2="861.2156488" stroke="#666666" stroke-width="3.2"/>
<line x1="959.6999999999999" y1="798.9909289777779" x2="976.1" y2="798.9909289777779" stroke="#666666" stroke-width="3.2"/>
<line x1="959.6999999999999" y1="861.2156488" x2="976.1" y2="861.2156488" stroke="#666666" stroke-width="3.2"/>
<line x1="997.9" y1="971.6025955555557" x2="997.9" y2="1023.36576" stroke="#666666" stroke-width="3.2"/>
<line x1="989.6999999999999" y1="971.6025955555557" x2="1006.1" y2="971.6025955555557" stroke="#666666" stroke-width="3.2"/>
<line x1="989.6999999999999" y1="1023.36576" x2="1006.1" y2="1023.36576" stroke="#666666" stroke-width="3.2"/>
<g transform="translate(1061.50 0)"><rect x="0" y="885.12" width="23.80" height="371.18" fill="url(#pdotC)" stroke="#7030A0" stroke-width="2.6"/></g>
<rect x="1092.10" y="1002.01" width="25.90" height="254.29" fill="url(#ohatC)" stroke="#C55A11" stroke-width="2.8"/>
<rect x="1122.50" y="1055.09" width="24.20" height="201.21" fill="url(#lig)" stroke="#000" stroke-width="3"/>
<line x1="1074.1000000000001" y1="865.1908200000001" x2="1074.1000000000001" y2="902.4393133333334" stroke="#666666" stroke-width="3.2"/>
<line x1="1065.9" y1="865.1908200000001" x2="1082.3000000000002" y2="865.1908200000001" stroke="#666666" stroke-width="3.2"/>
<line x1="1065.9" y1="902.4393133333334" x2="1082.3000000000002" y2="902.4393133333334" stroke="#666666" stroke-width="3.2"/>
<line x1="1104.7" y1="981.9413633111112" x2="1104.7" y2="1019.2725478" stroke="#666666" stroke-width="3.2"/>
<line x1="1096.5" y1="981.9413633111112" x2="1112.9" y2="981.9413633111112" stroke="#666666" stroke-width="3.2"/>
<line x1="1096.5" y1="1019.2725478" x2="1112.9" y2="1019.2725478" stroke="#666666" stroke-width="3.2"/>
<line x1="1134.7" y1="1033.4335955555557" x2="1134.7" y2="1073.95476" stroke="#666666" stroke-width="3.2"/>
<line x1="1126.5" y1="1033.4335955555557" x2="1142.9" y2="1033.4335955555557" stroke="#666666" stroke-width="3.2"/>
<line x1="1126.5" y1="1073.95476" x2="1142.9" y2="1073.95476" stroke="#666666" stroke-width="3.2"/>
<g transform="translate(1198.30 0)"><rect x="0" y="918.84" width="23.80" height="337.46" fill="url(#pdotC)" stroke="#7030A0" stroke-width="2.6"/></g>
<rect x="1228.90" y="1018.12" width="25.90" height="238.18" fill="url(#ohatC)" stroke="#C55A11" stroke-width="2.8"/>
<rect x="1259.30" y="1075.95" width="24.20" height="180.35" fill="url(#lig)" stroke="#000" stroke-width="3"/>
<line x1="1210.9" y1="900.60312" x2="1210.9" y2="934.4790133333333" stroke="#666666" stroke-width="3.2"/>
<line x1="1202.7" y1="900.60312" x2="1219.1000000000001" y2="900.60312" stroke="#666666" stroke-width="3.2"/>
<line x1="1202.7" y1="934.4790133333333" x2="1219.1000000000001" y2="934.4790133333333" stroke="#666666" stroke-width="3.2"/>
<line x1="1241.5" y1="999.2311845777778" x2="1241.5" y2="1034.2097932" stroke="#666666" stroke-width="3.2"/>
<line x1="1233.3" y1="999.2311845777778" x2="1249.7" y2="999.2311845777778" stroke="#666666" stroke-width="3.2"/>
<line x1="1233.3" y1="1034.2097932" x2="1249.7" y2="1034.2097932" stroke="#666666" stroke-width="3.2"/>
<line x1="1271.5" y1="1056.3797666666667" x2="1271.5" y2="1092.7288999999998" stroke="#666666" stroke-width="3.2"/>
<line x1="1263.3" y1="1056.3797666666667" x2="1279.7" y2="1056.3797666666667" stroke="#666666" stroke-width="3.2"/>
<line x1="1263.3" y1="1092.7288999999998" x2="1279.7" y2="1092.7288999999998" stroke="#666666" stroke-width="3.2"/>
<g transform="translate(1335.10 0)"><rect x="0" y="931.33" width="23.80" height="324.97" fill="url(#pdotC)" stroke="#7030A0" stroke-width="2.6"/></g>
<rect x="1365.70" y="1032.24" width="25.90" height="224.06" fill="url(#ohatC)" stroke="#C55A11" stroke-width="2.8"/>
<rect x="1396.10" y="1080.95" width="24.20" height="175.35" fill="url(#lig)" stroke="#000" stroke-width="3"/>
<line x1="1347.7" y1="913.7187866666668" x2="1347.7" y2="946.3455688888889" stroke="#666666" stroke-width="3.2"/>
<line x1="1339.5" y1="913.7187866666668" x2="1355.9" y2="913.7187866666668" stroke="#666666" stroke-width="3.2"/>
<line x1="1339.5" y1="946.3455688888889" x2="1355.9" y2="946.3455688888889" stroke="#666666" stroke-width="3.2"/>
<line x1="1378.3" y1="1014.3765318888888" x2="1378.3" y2="1047.294357" stroke="#666666" stroke-width="3.2"/>
<line x1="1370.1" y1="1014.3765318888888" x2="1386.5" y2="1014.3765318888888" stroke="#666666" stroke-width="3.2"/>
<line x1="1370.1" y1="1047.294357" x2="1386.5" y2="1047.294357" stroke="#666666" stroke-width="3.2"/>
<line x1="1408.3" y1="1061.8758555555555" x2="1408.3" y2="1097.2257" stroke="#666666" stroke-width="3.2"/>
<line x1="1400.1" y1="1061.8758555555555" x2="1416.5" y2="1061.8758555555555" stroke="#666666" stroke-width="3.2"/>
<line x1="1400.1" y1="1097.2257" x2="1416.5" y2="1097.2257" stroke="#666666" stroke-width="3.2"/>
<g transform="translate(1471.90 0)"><rect x="0" y="937.58" width="23.80" height="318.72" fill="url(#pdotC)" stroke="#7030A0" stroke-width="2.6"/></g>
<rect x="1502.50" y="1035.61" width="25.90" height="220.69" fill="url(#ohatC)" stroke="#C55A11" stroke-width="2.8"/>
<rect x="1532.90" y="1084.95" width="24.20" height="171.35" fill="url(#lig)" stroke="#000" stroke-width="3"/>
<line x1="1484.5" y1="920.27662" x2="1484.5" y2="952.2788466666667" stroke="#666666" stroke-width="3.2"/>
<line x1="1476.3" y1="920.27662" x2="1492.7" y2="920.27662" stroke="#666666" stroke-width="3.2"/>
<line x1="1476.3" y1="952.2788466666667" x2="1492.7" y2="952.2788466666667" stroke="#666666" stroke-width="3.2"/>
<line x1="1515.1" y1="1017.9953316888888" x2="1515.1" y2="1050.4207571999998" stroke="#666666" stroke-width="3.2"/>
<line x1="1506.8999999999999" y1="1017.9953316888888" x2="1523.3" y2="1017.9953316888888" stroke="#666666" stroke-width="3.2"/>
<line x1="1506.8999999999999" y1="1050.4207571999998" x2="1523.3" y2="1050.4207571999998" stroke="#666666" stroke-width="3.2"/>
<line x1="1545.1" y1="1066.2727266666666" x2="1545.1" y2="1100.82314" stroke="#666666" stroke-width="3.2"/>
<line x1="1536.8999999999999" y1="1066.2727266666666" x2="1553.3" y2="1066.2727266666666" stroke="#666666" stroke-width="3.2"/>
<line x1="1536.8999999999999" y1="1100.82314" x2="1553.3" y2="1100.82314" stroke="#666666" stroke-width="3.2"/>
<rect x="899.70" y="694.20" width="682.80" height="562.10" fill="none" stroke="#000" stroke-width="3.6"/>
<line x1="888.2" y1="1256.3" x2="909.7" y2="1256.3" stroke="#222" stroke-width="2"/>
<text x="868.2" y="1266.6" font-size="31.5" text-anchor="end" font-weight="normal" fill="#000">0</text>
<line x1="888.2" y1="1193.8444444444444" x2="909.7" y2="1193.8444444444444" stroke="#222" stroke-width="2"/>
<text x="868.2" y="1204.1444444444444" font-size="31.5" text-anchor="end" font-weight="normal" fill="#000">5</text>
<line x1="888.2" y1="1131.388888888889" x2="909.7" y2="1131.388888888889" stroke="#222" stroke-width="2"/>
<text x="868.2" y="1141.6888888888889" font-size="31.5" text-anchor="end" font-weight="normal" fill="#000">10</text>
<line x1="888.2" y1="1068.9333333333334" x2="909.7" y2="1068.9333333333334" stroke="#222" stroke-width="2"/>
<text x="868.2" y="1079.2333333333333" font-size="31.5" text-anchor="end" font-weight="normal" fill="#000">15</text>
<line x1="888.2" y1="1006.4777777777778" x2="909.7" y2="1006.4777777777778" stroke="#222" stroke-width="2"/>
<text x="868.2" y="1016.7777777777777" font-size="31.5" text-anchor="end" font-weight="normal" fill="#000">20</text>
<line x1="888.2" y1="944.0222222222222" x2="909.7" y2="944.0222222222222" stroke="#222" stroke-width="2"/>
<text x="868.2" y="954.3222222222222" font-size="31.5" text-anchor="end" font-weight="normal" fill="#000">25</text>
<line x1="888.2" y1="881.5666666666667" x2="909.7" y2="881.5666666666667" stroke="#222" stroke-width="2"/>
<text x="868.2" y="891.8666666666667" font-size="31.5" text-anchor="end" font-weight="normal" fill="#000">30</text>
<line x1="888.2" y1="819.1111111111111" x2="909.7" y2="819.1111111111111" stroke="#222" stroke-width="2"/>
<text x="868.2" y="829.411111111111" font-size="31.5" text-anchor="end" font-weight="normal" fill="#000">35</text>
<line x1="888.2" y1="756.6555555555556" x2="909.7" y2="756.6555555555556" stroke="#222" stroke-width="2"/>
<text x="868.2" y="766.9555555555555" font-size="31.5" text-anchor="end" font-weight="normal" fill="#000">40</text>
<line x1="888.2" y1="694.2" x2="909.7" y2="694.2" stroke="#222" stroke-width="2"/>
<text x="868.2" y="704.5" font-size="31.5" text-anchor="end" font-weight="normal" fill="#000">45</text>
<text x="967.4" y="1306.3" font-size="30.5" text-anchor="middle" font-weight="normal" fill="#000">0</text>
<text x="1104.2" y="1306.3" font-size="30.5" text-anchor="middle" font-weight="normal" fill="#000">3</text>
<text x="1241.0" y="1306.3" font-size="30.5" text-anchor="middle" font-weight="normal" fill="#000">5</text>
<text x="1377.8" y="1306.3" font-size="30.5" text-anchor="middle" font-weight="normal" fill="#000">10</text>
<text x="1514.6" y="1306.3" font-size="30.5" text-anchor="middle" font-weight="normal" fill="#000">15</text>
<g transform="translate(1030.50 0)"><rect x="0" y="711.20" width="16.90" height="15.80" fill="url(#pdotC)" stroke="#7030A0" stroke-width="2.6"/></g>
<rect x="1030.40" y="758.40" width="16.90" height="17.70" fill="url(#ohatC)" stroke="#C55A11" stroke-width="2.8"/>
<rect x="1031.20" y="807.20" width="15.60" height="15.40" fill="url(#lig)" stroke="#000" stroke-width="3.5"/>
<text x="1054" y="730.4" font-size="31.2" text-anchor="start" font-weight="normal" fill="#000" letter-spacing="0.75">Cellulose</text>
<text x="1053.6" y="777" font-size="31.2" text-anchor="start" font-weight="normal" fill="#000" letter-spacing="0.8">Hemicellulose</text>
<text x="1054" y="824.3" font-size="31.2" text-anchor="start" font-weight="normal" fill="#000" letter-spacing="1.0">Lignin</text>
<text x="1541.6" y="734.6" font-size="38.5" text-anchor="middle" font-weight="normal" fill="#000">(c)</text>
<text transform="translate(823.5 968) rotate(-90)" font-size="36.2" text-anchor="middle" font-weight="normal" fill="#000">Content (%w/w)</text>
<text x="1241" y="1355.3" font-size="32.6" text-anchor="middle" font-weight="normal" fill="#000">Time (days)</text>
</g>
<g id="chartD">
<line x1="1738.8999999999999" y1="1197.6999999999998" x2="2362.3" y2="1197.6999999999998" stroke="#dde2ea" stroke-width="2.5"/>
<line x1="1738.8999999999999" y1="1142.8" x2="2362.3" y2="1142.8" stroke="#dde2ea" stroke-width="2.5"/>
<line x1="1738.8999999999999" y1="1087.8999999999999" x2="2362.3" y2="1087.8999999999999" stroke="#dde2ea" stroke-width="2.5"/>
<line x1="1738.8999999999999" y1="1033.0" x2="2362.3" y2="1033.0" stroke="#dde2ea" stroke-width="2.5"/>
<line x1="1738.8999999999999" y1="978.0999999999999" x2="2362.3" y2="978.0999999999999" stroke="#dde2ea" stroke-width="2.5"/>
<line x1="1738.8999999999999" y1="923.2" x2="2362.3" y2="923.2" stroke="#dde2ea" stroke-width="2.5"/>
<line x1="1738.8999999999999" y1="868.3" x2="2362.3" y2="868.3" stroke="#dde2ea" stroke-width="2.5"/>
<line x1="1738.8999999999999" y1="813.4" x2="2362.3" y2="813.4" stroke="#dde2ea" stroke-width="2.5"/>
<line x1="1738.8999999999999" y1="758.5" x2="2362.3" y2="758.5" stroke="#dde2ea" stroke-width="2.5"/>
<g filter="url(#sh)">
<g transform="translate(1749.20 0)"><rect x="0" y="1046.38" width="39.40" height="206.22" fill="url(#pdotD)" stroke="#7030A0" stroke-width="2.6"/></g>
<rect x="1798.00" y="1046.93" width="39.80" height="205.67" fill="url(#ohatD)" stroke="#C55A11" stroke-width="2.6"/>
<g transform="translate(1875.60 0)"><rect x="0" y="1040.89" width="39.40" height="211.71" fill="url(#pdotD)" stroke="#7030A0" stroke-width="2.6"/></g>
<rect x="1924.40" y="934.38" width="39.80" height="318.22" fill="url(#ohatD)" stroke="#C55A11" stroke-width="2.6"/>
<g transform="translate(2002.00 0)"><rect x="0" y="1011.24" width="39.40" height="241.36" fill="url(#pdotD)" stroke="#7030A0" stroke-width="2.6"/></g>
<rect x="2050.80" y="836.11" width="39.80" height="416.49" fill="url(#ohatD)" stroke="#C55A11" stroke-width="2.6"/>
<g transform="translate(2128.40 0)"><rect x="0" y="998.07" width="39.40" height="254.53" fill="url(#pdotD)" stroke="#7030A0" stroke-width="2.6"/></g>
<rect x="2177.20" y="863.01" width="39.80" height="389.59" fill="url(#ohatD)" stroke="#C55A11" stroke-width="2.6"/>
<g transform="translate(2254.80 0)"><rect x="0" y="1009.05" width="39.40" height="243.55" fill="url(#pdotD)" stroke="#7030A0" stroke-width="2.6"/></g>
<rect x="2303.60" y="904.19" width="39.80" height="348.41" fill="url(#ohatD)" stroke="#C55A11" stroke-width="2.6"/>
</g>
<line x1="1769.3" y1="1029.157" x2="1769.3" y2="1060.999" stroke="#000" stroke-width="3.2"/>
<line x1="1762.0" y1="1029.157" x2="1776.6" y2="1029.157" stroke="#000" stroke-width="3"/>
<line x1="1762.0" y1="1060.999" x2="1776.6" y2="1060.999" stroke="#000" stroke-width="3"/>
<line x1="1817.8" y1="1031.902" x2="1817.8" y2="1059.3519999999999" stroke="#000" stroke-width="3.2"/>
<line x1="1810.5" y1="1031.902" x2="1825.1" y2="1031.902" stroke="#000" stroke-width="3"/>
<line x1="1810.5" y1="1059.3519999999999" x2="1825.1" y2="1059.3519999999999" stroke="#000" stroke-width="3"/>
<line x1="1895.7" y1="1022.569" x2="1895.7" y2="1056.607" stroke="#000" stroke-width="3.2"/>
<line x1="1888.4" y1="1022.569" x2="1903.0" y2="1022.569" stroke="#000" stroke-width="3"/>
<line x1="1888.4" y1="1056.607" x2="1903.0" y2="1056.607" stroke="#000" stroke-width="3"/>
<line x1="1944.2" y1="911.122" x2="1944.2" y2="955.0419999999999" stroke="#000" stroke-width="3.2"/>
<line x1="1936.9" y1="911.122" x2="1951.5" y2="911.122" stroke="#000" stroke-width="3"/>
<line x1="1936.9" y1="955.0419999999999" x2="1951.5" y2="955.0419999999999" stroke="#000" stroke-width="3"/>
<line x1="2022.1000000000001" y1="990.178" x2="2022.1000000000001" y2="1029.706" stroke="#000" stroke-width="3.2"/>
<line x1="2014.8000000000002" y1="990.178" x2="2029.4" y2="990.178" stroke="#000" stroke-width="3"/>
<line x1="2014.8000000000002" y1="1029.706" x2="2029.4" y2="1029.706" stroke="#000" stroke-width="3"/>
<line x1="2070.6000000000004" y1="805.714" x2="2070.6000000000004" y2="863.908" stroke="#000" stroke-width="3.2"/>
<line x1="2063.3" y1="805.714" x2="2077.9000000000005" y2="805.714" stroke="#000" stroke-width="3"/>
<line x1="2063.3" y1="863.908" x2="2077.9000000000005" y2="863.908" stroke="#000" stroke-width="3"/>
<line x1="2148.5" y1="976.453" x2="2148.5" y2="1017.079" stroke="#000" stroke-width="3.2"/>
<line x1="2141.2" y1="976.453" x2="2155.8" y2="976.453" stroke="#000" stroke-width="3"/>
<line x1="2141.2" y1="1017.079" x2="2155.8" y2="1017.079" stroke="#000" stroke-width="3"/>
<line x1="2197.0" y1="834.262" x2="2197.0" y2="889.162" stroke="#000" stroke-width="3.2"/>
<line x1="2189.7" y1="834.262" x2="2204.3" y2="834.262" stroke="#000" stroke-width="3"/>
<line x1="2189.7" y1="889.162" x2="2204.3" y2="889.162" stroke="#000" stroke-width="3"/>
<line x1="2274.9" y1="987.982" x2="2274.9" y2="1027.51" stroke="#000" stroke-width="3.2"/>
<line x1="2267.6" y1="987.982" x2="2282.2000000000003" y2="987.982" stroke="#000" stroke-width="3"/>
<line x1="2267.6" y1="1027.51" x2="2282.2000000000003" y2="1027.51" stroke="#000" stroke-width="3"/>
<line x1="2323.4" y1="878.182" x2="2323.4" y2="927.592" stroke="#000" stroke-width="3.2"/>
<line x1="2316.1" y1="878.182" x2="2330.7000000000003" y2="878.182" stroke="#000" stroke-width="3"/>
<line x1="2316.1" y1="927.592" x2="2330.7000000000003" y2="927.592" stroke="#000" stroke-width="3"/>
<line x1="1730.3" y1="703.6" x2="2362.3" y2="703.6" stroke="#000" stroke-width="1.3"/>
<line x1="2361.7000000000003" y1="703.6" x2="2361.7000000000003" y2="1252.6" stroke="#111" stroke-width="1.3"/>
<line x1="1730.3" y1="703.6" x2="1730.3" y2="1260.6" stroke="#000" stroke-width="2.6"/>
<line x1="1722.0" y1="1252.6" x2="2363.6000000000004" y2="1252.6" stroke="#000" stroke-width="3"/>
<line x1="1722.0" y1="1252.6" x2="1738.8999999999999" y2="1252.6" stroke="#000" stroke-width="2.4"/>
<text transform="translate(1705.5 1261.8) scale(0.985 1)" font-size="28" text-anchor="end" font-weight="normal" fill="#000">0</text>
<line x1="1722.0" y1="1197.6999999999998" x2="1738.8999999999999" y2="1197.6999999999998" stroke="#000" stroke-width="2.4"/>
<text transform="translate(1705.5 1206.8999999999999) scale(0.985 1)" font-size="28" text-anchor="end" font-weight="normal" fill="#000">1000</text>
<line x1="1722.0" y1="1142.8" x2="1738.8999999999999" y2="1142.8" stroke="#000" stroke-width="2.4"/>
<text transform="translate(1705.5 1152.0) scale(0.985 1)" font-size="28" text-anchor="end" font-weight="normal" fill="#000">2000</text>
<line x1="1722.0" y1="1087.8999999999999" x2="1738.8999999999999" y2="1087.8999999999999" stroke="#000" stroke-width="2.4"/>
<text transform="translate(1705.5 1097.1) scale(0.985 1)" font-size="28" text-anchor="end" font-weight="normal" fill="#000">3000</text>
<line x1="1722.0" y1="1033.0" x2="1738.8999999999999" y2="1033.0" stroke="#000" stroke-width="2.4"/>
<text transform="translate(1705.5 1042.2) scale(0.985 1)" font-size="28" text-anchor="end" font-weight="normal" fill="#000">4000</text>
<line x1="1722.0" y1="978.0999999999999" x2="1738.8999999999999" y2="978.0999999999999" stroke="#000" stroke-width="2.4"/>
<text transform="translate(1705.5 987.3) scale(0.985 1)" font-size="28" text-anchor="end" font-weight="normal" fill="#000">5000</text>
<line x1="1722.0" y1="923.2" x2="1738.8999999999999" y2="923.2" stroke="#000" stroke-width="2.4"/>
<text transform="translate(1705.5 932.4000000000001) scale(0.985 1)" font-size="28" text-anchor="end" font-weight="normal" fill="#000">6000</text>
<line x1="1722.0" y1="868.3" x2="1738.8999999999999" y2="868.3" stroke="#000" stroke-width="2.4"/>
<text transform="translate(1705.5 877.5) scale(0.985 1)" font-size="28" text-anchor="end" font-weight="normal" fill="#000">7000</text>
<line x1="1722.0" y1="813.4" x2="1738.8999999999999" y2="813.4" stroke="#000" stroke-width="2.4"/>
<text transform="translate(1705.5 822.6) scale(0.985 1)" font-size="28" text-anchor="end" font-weight="normal" fill="#000">8000</text>
<line x1="1722.0" y1="758.5" x2="1738.8999999999999" y2="758.5" stroke="#000" stroke-width="2.4"/>
<text transform="translate(1705.5 767.7) scale(0.985 1)" font-size="28" text-anchor="end" font-weight="normal" fill="#000">9000</text>
<line x1="1722.0" y1="703.6" x2="1738.8999999999999" y2="703.6" stroke="#000" stroke-width="2.4"/>
<text transform="translate(1705.5 712.8000000000001) scale(0.985 1)" font-size="28" text-anchor="end" font-weight="normal" fill="#000">10000</text>
<line x1="1730.3" y1="1252.6" x2="1730.3" y2="1260.6" stroke="#000" stroke-width="2.6"/>
<line x1="1856.7" y1="1252.6" x2="1856.7" y2="1260.6" stroke="#000" stroke-width="2.6"/>
<line x1="1983.1000000000001" y1="1252.6" x2="1983.1000000000001" y2="1260.6" stroke="#000" stroke-width="2.6"/>
<line x1="2109.5" y1="1252.6" x2="2109.5" y2="1260.6" stroke="#000" stroke-width="2.6"/>
<line x1="2235.9" y1="1252.6" x2="2235.9" y2="1260.6" stroke="#000" stroke-width="2.6"/>
<line x1="2362.3" y1="1252.6" x2="2362.3" y2="1260.6" stroke="#000" stroke-width="2.6"/>
<text x="1792.7" y="1293.6" font-size="28" text-anchor="middle" font-weight="normal" fill="#000">0</text>
<text x="1919.1000000000001" y="1293.6" font-size="28" text-anchor="middle" font-weight="normal" fill="#000">3</text>
<text x="2045.5000000000002" y="1293.6" font-size="28" text-anchor="middle" font-weight="normal" fill="#000">5</text>
<text x="2171.9" y="1293.6" font-size="28" text-anchor="middle" font-weight="normal" fill="#000">10</text>
<text x="2298.3" y="1293.6" font-size="28" text-anchor="middle" font-weight="normal" fill="#000">15</text>
<rect x="1783.00" y="732.00" width="17.80" height="17.00" fill="url(#pdotD)" stroke="none" stroke-width="0" rx="1.5"/>
<rect x="1784.20" y="785.00" width="15.40" height="14.60" fill="url(#ohatD)" stroke="#C55A11" stroke-width="2.4" rx="1"/>
<text x="1805" y="748.9" font-size="28" text-anchor="start" font-weight="normal" fill="#000">Raw SB</text>
<text x="1805" y="800.7" font-size="28" text-anchor="start" font-weight="normal" fill="#000">Pretreated-SB</text>
<text x="2324" y="750.5" font-size="38.5" text-anchor="middle" font-weight="normal" fill="#000">(d)</text>
<text transform="translate(1631 945) rotate(-90)" font-size="28.6" text-anchor="middle" font-weight="normal" fill="#000">sCOD (g/L)</text>
<text x="2053.4" y="1316.4" font-size="28.1" text-anchor="middle" font-weight="normal" fill="#000">Time (days)</text>
</g>
</svg></body></html>
